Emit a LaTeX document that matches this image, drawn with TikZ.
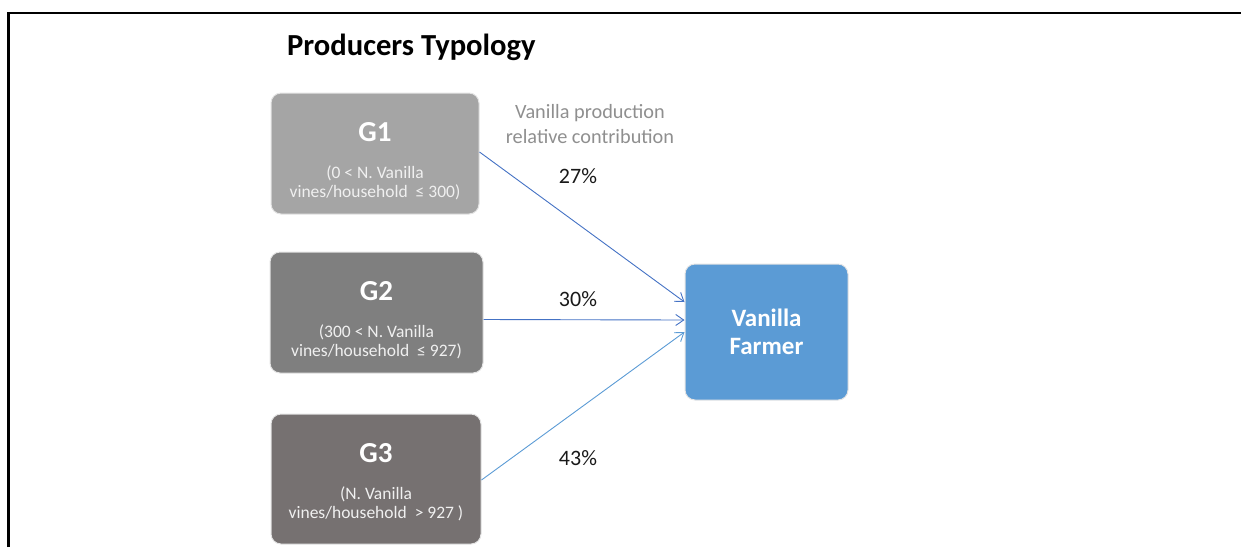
\documentclass[tikz,border=0pt]{standalone}
\usepackage{fontspec}
\setmainfont{Carlito}
\usetikzlibrary{arrows.meta}

\definecolor{gone}{HTML}{A5A5A5}
\definecolor{gtwo}{HTML}{7F7F7F}
\definecolor{gthree}{HTML}{767171}
\definecolor{farmerblue}{HTML}{5B9BD5}
\definecolor{flowblue}{HTML}{4472C4}
\definecolor{flowlight}{HTML}{5B9BD5}
\definecolor{captiongray}{HTML}{8F8F8F}
\definecolor{rimgray}{HTML}{E4E4E4}

\begin{document}
\begin{tikzpicture}[x=1pt, y=-1pt,
  box/.style={rounded corners=10pt, draw=rimgray, line width=1pt, inner sep=0pt},
  grouptitle/.style={anchor=base, inner sep=0pt, text=white, font=\fontsize{29}{31}\selectfont\bfseries},
  grouprange/.style={anchor=base, inner sep=0pt, text=white!94!black, font=\fontsize{17.5}{19}\selectfont},
  caption/.style={anchor=base, inner sep=0pt, text=captiongray, font=\fontsize{20.3}{24}\selectfont},
  share/.style={anchor=base, inner sep=0pt, text=black!90, font=\fontsize{22}{24}\selectfont},
  flow/.style={line width=0.9pt, -{Straight Barb[length=8pt, width=11pt, line width=0.9pt]}}
]
\useasboundingbox (0,0) rectangle (1241,547);

% frame lines along the top and left edge
\draw[line width=2.4pt] (8.5,547) -- (8.5,13) -- (1241,13);

% heading
\node[anchor=base west, inner sep=0pt, font=\fontsize{30.6}{32}\selectfont\bfseries] (heading) at (287,55) {Producers Typology};

% producer groups
\node[box, fill=gone, minimum width=208pt, minimum height=121pt] (g1) at (375,153.5) {};
\node[box, fill=gtwo, minimum width=213pt, minimum height=121pt] (g2) at (376.5,312.5) {};
\node[box, fill=gthree, minimum width=210pt, minimum height=130pt] (g3) at (376,479) {};

\node[grouptitle] (g1t) at ([yshift=-49pt]g1.north) {G1};
\node[grouprange] (g1a) at ([yshift=-86pt]g1.north) {(0 < N. Vanilla};
\node[grouprange] (g1b) at ([yshift=-105pt]g1.north) {vines/household\ \ ≤ 300)};

\node[grouptitle] (g2t) at ([yshift=-49pt]g2.north) {G2};
\node[grouprange] (g2a) at ([yshift=-86pt]g2.north) {(300 < N. Vanilla};
\node[grouprange] (g2b) at ([yshift=-105pt]g2.north) {vines/household\ \ ≤ 927)};

\node[grouptitle] (g3t) at ([yshift=-49pt]g3.north) {G3};
\node[grouprange] (g3a) at ([yshift=-86pt]g3.north) {(N. Vanilla};
\node[grouprange] (g3b) at ([yshift=-105pt]g3.north) {vines/household\ \ > 927 )};

% target
\node[box, fill=farmerblue, minimum width=163pt, minimum height=136pt, text=white, align=center,
      font=\fontsize{25}{27.5}\selectfont\bfseries] (farmer) at (766.5,332) {Vanilla\\Farmer};

% caption and shares
\node[caption] (cap1) at (590,118.5) {Vanilla production};
\node[caption] (cap2) at (590,143.5) {relative contribution};
\node[share] (s1) at (578,183.5) {27\%};
\node[share] (s2) at (578,306.5) {30\%};
\node[share] (s3) at (578,465) {43\%};

% flows into the farmer box
\draw[flow, draw=flowblue] ([yshift=1.5pt]g1.east) -- ([yshift=30pt]farmer.west);
\draw[flow, draw=flowblue] ([yshift=-7pt]g2.east) -- ([yshift=12pt]farmer.west);
\draw[flow, draw=flowlight] ([yshift=-1pt]g3.east) -- ([yshift=0pt]farmer.west);
\end{tikzpicture}
\end{document}
